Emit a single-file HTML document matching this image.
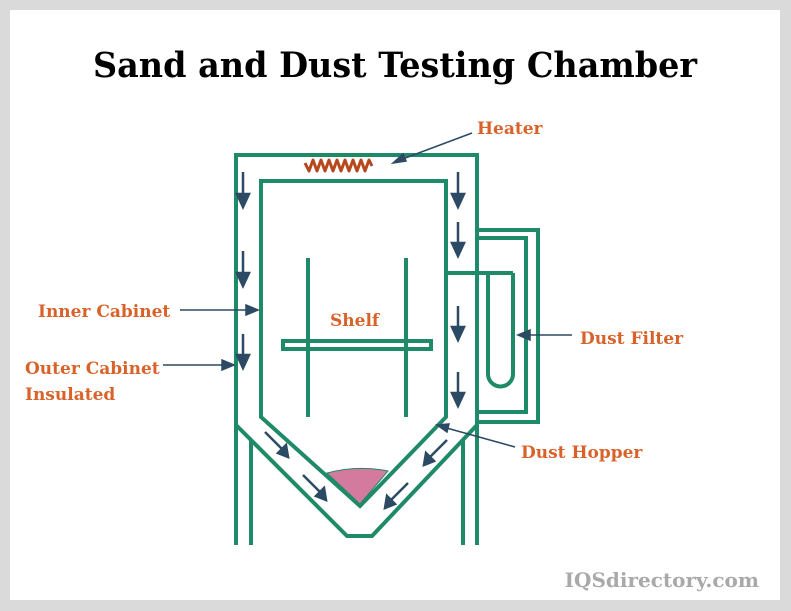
<!DOCTYPE html><html><head><style>
html,body{margin:0;padding:0;background:#dadada;}
svg{display:block}
</style></head><body>
<svg width="791" height="611" viewBox="0 0 791 611" xmlns="http://www.w3.org/2000/svg">
<rect x="0" y="0" width="791" height="611" fill="#dadada"/>
<rect x="10" y="10" width="770" height="590" fill="#fff"/>
<text x="395" y="77" text-anchor="middle" font-family="DejaVu Serif, Liberation Serif, serif" font-weight="bold" font-size="35" fill="#000" textLength="604" lengthAdjust="spacingAndGlyphs">Sand and Dust Testing Chamber</text>
<g fill="none" stroke="#1f8a68" stroke-width="4" stroke-linejoin="miter">
<polyline points="236,545 236,155 477,155 477,545"/>
<polyline points="236,425 347,536 372,536 477,425"/>
<line x1="251" y1="440" x2="251" y2="545"/>
<line x1="463" y1="440" x2="463" y2="545"/>
<polygon points="261,181 446,181 446,417 360,506 261,417"/>
<line x1="308" y1="258" x2="308" y2="417"/>
<line x1="406" y1="258" x2="406" y2="417"/>
<rect x="283" y="341" width="148" height="8"/>
<polyline points="477,230 538,230 538,422 477,422"/>
<polyline points="477,238 526,238 526,412 477,412"/>
<line x1="446" y1="273" x2="513" y2="273"/>
<path d="M488,273 V374 A12.5,12.5 0 0 0 513,374 V273"/>
</g>
<path d="M327,473 Q358,465 388,471 L360,504 Z" fill="#d47a9e" stroke="#1f8a68" stroke-width="1"/>
<path d="M305,163 l4,8 l4,-11 l4,11 l4,-11 l4,11 l4,-11 l4,11 l4,-11 l4,11 l4,-11 l4,11 l4,-11 l4,11 l4,-11 l4,11 l4,-11 l3,6" fill="none" stroke="#b5481d" stroke-width="3" stroke-linejoin="round"/>
<g stroke="#2c4a63" stroke-width="2.5" fill="#2c4a63">
<line x1="243" y1="172" x2="243" y2="196"/><polygon points="237,194 249,194 243,207"/>
<line x1="243" y1="251" x2="243" y2="275"/><polygon points="237,273 249,273 243,286"/>
<line x1="243" y1="334" x2="243" y2="357"/><polygon points="237,355 249,355 243,368"/>
<line x1="458" y1="172" x2="458" y2="196"/><polygon points="452,194 464,194 458,207"/>
<line x1="458" y1="222" x2="458" y2="245"/><polygon points="452,243 464,243 458,256"/>
<line x1="458" y1="306" x2="458" y2="329"/><polygon points="452,327 464,327 458,340"/>
<line x1="458" y1="372" x2="458" y2="395"/><polygon points="452,393 464,393 458,406"/>
<line x1="265" y1="432" x2="282" y2="449"/><polygon points="278,453 286,445 288,457"/>
<line x1="303" y1="475" x2="320" y2="492"/><polygon points="316,496 324,488 326,500"/>
<line x1="447" y1="440" x2="430" y2="457"/><polygon points="434,461 426,453 424,465"/>
<line x1="408" y1="483" x2="391" y2="500"/><polygon points="395,504 387,496 385,508"/>
</g>
<g stroke="#2c4a63" stroke-width="1.5" fill="#2c4a63">
<line x1="472" y1="133" x2="400" y2="160"/><polygon points="393,163 403,154 406,161"/>
<line x1="180" y1="310" x2="252" y2="310"/><polygon points="258,310 246,305 246,315"/>
<line x1="163" y1="365" x2="228" y2="365"/><polygon points="234,365 222,360 222,370"/>
<line x1="572" y1="335" x2="524" y2="335"/><polygon points="518,335 530,330 530,340"/>
<line x1="515" y1="447" x2="443" y2="427"/><polygon points="437,425 449,424 447,432"/>
</g>
<g font-family="DejaVu Serif, Liberation Serif, serif" font-weight="bold" font-size="17" fill="#d9622b">
<text x="477" y="134">Heater</text>
<text x="38" y="317">Inner Cabinet</text>
<text x="25" y="374">Outer Cabinet</text>
<text x="25" y="400">Insulated</text>
<text x="330" y="326">Shelf</text>
<text x="580" y="344">Dust Filter</text>
<text x="521" y="458">Dust Hopper</text>
</g>
<text x="759" y="587" text-anchor="end" font-family="DejaVu Serif, Liberation Serif, serif" font-weight="bold" font-size="20" fill="#a9a9a9">IQSdirectory.com</text>
</svg>
</body></html>
